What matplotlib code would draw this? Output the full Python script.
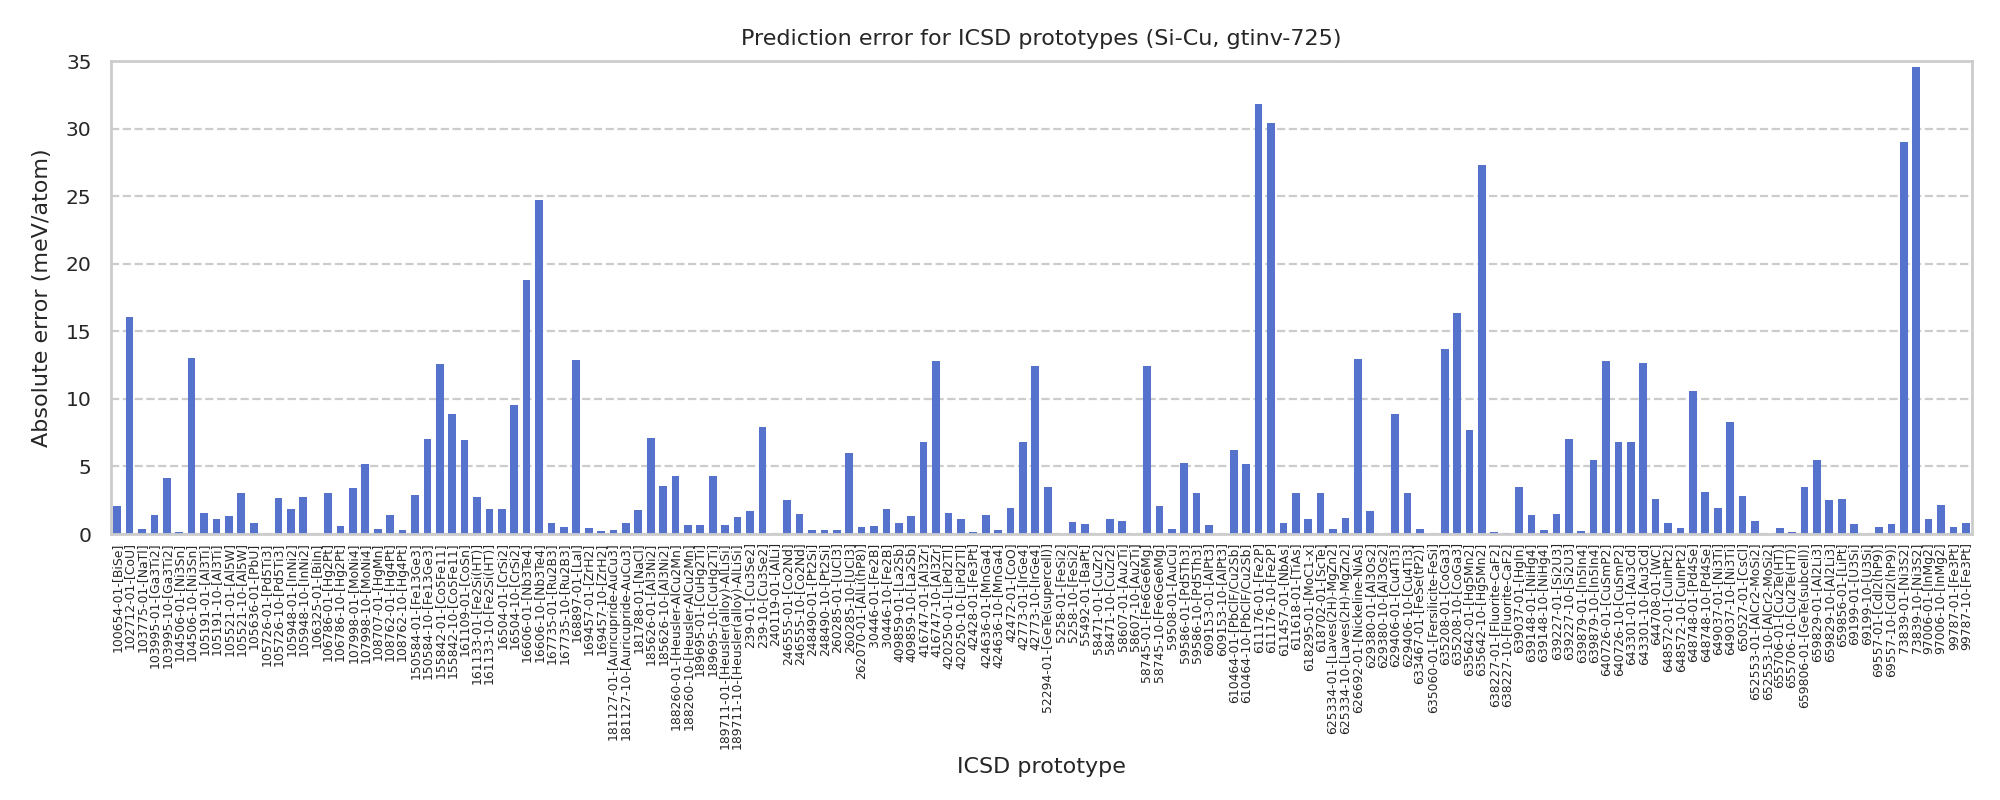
import matplotlib
matplotlib.use('Agg')
import matplotlib.pyplot as plt

# ICSD prototypes in plotting order
prototypes = [
    '100654-01-[BiSe]', '102712-01-[CoU]', '103775-01-[NaTl]', '103995-01-[Ga3Ti2]', '103995-10-[Ga3Ti2]',
    '104506-01-[Ni3Sn]', '104506-10-[Ni3Sn]', '105191-01-[Al3Ti]', '105191-10-[Al3Ti]', '105521-01-[Al5W]',
    '105521-10-[Al5W]', '105636-01-[PbU]', '105726-01-[Pd5Ti3]', '105726-10-[Pd5Ti3]', '105948-01-[InNi2]',
    '105948-10-[InNi2]', '106325-01-[BiIn]', '106786-01-[Hg2Pt]', '106786-10-[Hg2Pt]', '107998-01-[MoNi4]',
    '107998-10-[MoNi4]', '108707-01-[HgMn]', '108762-01-[Hg4Pt]', '108762-10-[Hg4Pt]', '150584-01-[Fe13Ge3]',
    '150584-10-[Fe13Ge3]', '155842-01-[Co5Fe11]', '155842-10-[Co5Fe11]', '161109-01-[CoSn]', '161133-01-[Fe2Si(HT)]',
    '161133-10-[Fe2Si(HT)]', '16504-01-[CrSi2]', '16504-10-[CrSi2]', '16606-01-[Nb3Te4]', '16606-10-[Nb3Te4]',
    '167735-01-[Ru2B3]', '167735-10-[Ru2B3]', '168897-01-[LaI]', '169457-01-[ZrH2]', '169457-10-[ZrH2]',
    '181127-01-[Auricupride-AuCu3]', '181127-10-[Auricupride-AuCu3]', '181788-01-[NaCl]', '185626-01-[Al3Ni2]',
    '185626-10-[Al3Ni2]', '188260-01-[Heusler-AlCu2Mn]', '188260-10-[Heusler-AlCu2Mn]', '189695-01-[CuHg2Ti]',
    '189695-10-[CuHg2Ti]', '189711-01-[Heusler(alloy)-AlLiSi]', '189711-10-[Heusler(alloy)-AlLiSi]',
    '239-01-[Cu3Se2]', '239-10-[Cu3Se2]', '240119-01-[AlLi]', '246555-01-[Co2Nd]', '246555-10-[Co2Nd]',
    '248490-01-[Pt2Si]', '248490-10-[Pt2Si]', '260285-01-[UCl3]', '260285-10-[UCl3]', '262070-01-[AlLi(hP8)]',
    '30446-01-[Fe2B]', '30446-10-[Fe2B]', '409859-01-[La2Sb]', '409859-10-[La2Sb]', '416747-01-[Al3Zr]',
    '416747-10-[Al3Zr]', '420250-01-[LiPd2Tl]', '420250-10-[LiPd2Tl]', '42428-01-[Fe3Pt]', '424636-01-[MnGa4]',
    '424636-10-[MnGa4]', '42472-01-[CoO]', '42773-01-[IrGe4]', '42773-10-[IrGe4]', '52294-01-[GeTe(supercell)]',
    '5258-01-[FeSi2]', '5258-10-[FeSi2]', '55492-01-[BaPt]', '58471-01-[CuZr2]', '58471-10-[CuZr2]',
    '58607-01-[Au2Ti]', '58607-10-[Au2Ti]', '58745-01-[Fe6Ge6Mg]', '58745-10-[Fe6Ge6Mg]', '59508-01-[AuCu]',
    '59586-01-[Pd5Th3]', '59586-10-[Pd5Th3]', '609153-01-[AlPt3]', '609153-10-[AlPt3]', '610464-01-[PbClF/Cu2Sb]',
    '610464-10-[PbClF/Cu2Sb]', '611176-01-[Fe2P]', '611176-10-[Fe2P]', '611457-01-[NbAs]', '611618-01-[TiAs]',
    '618295-01-[MoC1-x]', '618702-01-[ScTe]', '625334-01-[Laves(2H)-MgZn2]', '625334-10-[Laves(2H)-MgZn2]',
    '626692-01-[Nickeline-NiAs]', '629380-01-[Al3Os2]', '629380-10-[Al3Os2]', '629406-01-[Cu4Ti3]',
    '629406-10-[Cu4Ti3]', '633467-01-[FeSe(tP2)]', '635060-01-[Fersilicite-FeSi]', '635208-01-[CoGa3]',
    '635208-10-[CoGa3]', '635642-01-[Hg5Mn2]', '635642-10-[Hg5Mn2]', '638227-01-[Fluorite-CaF2]',
    '638227-10-[Fluorite-CaF2]', '639037-01-[HgIn]', '639148-01-[NiHg4]', '639148-10-[NiHg4]', '639227-01-[Si2U3]',
    '639227-10-[Si2U3]', '639879-01-[In5In4]', '639879-10-[In5In4]', '640726-01-[CuSmP2]', '640726-10-[CuSmP2]',
    '643301-01-[Au3Cd]', '643301-10-[Au3Cd]', '644708-01-[WC]', '648572-01-[CuInPt2]', '648572-10-[CuInPt2]',
    '648748-01-[Pd4Se]', '648748-10-[Pd4Se]', '649037-01-[Ni3Ti]', '649037-10-[Ni3Ti]', '650527-01-[CsCl]',
    '652553-01-[AlCr2-MoSi2]', '652553-10-[AlCr2-MoSi2]', '655706-01-[Cu2Te(HT)]', '655706-10-[Cu2Te(HT)]',
    '659806-01-[GeTe(subcell)]', '659829-01-[Al2Li3]', '659829-10-[Al2Li3]', '659856-01-[LiPt]', '69199-01-[U3Si]',
    '69199-10-[U3Si]', '69557-01-[CdI2(hP9)]', '69557-10-[CdI2(hP9)]', '73839-01-[Ni3S2]', '73839-10-[Ni3S2]',
    '97006-01-[InMg2]', '97006-10-[InMg2]', '99787-01-[Fe3Pt]', '99787-10-[Fe3Pt]',
]

# absolute error in meV/atom
abs_error = [
    2.05, 16.1, 0.40, 1.44, 4.18, 0.17, 13.0, 1.58, 1.14, 1.36,
    3.00, 0.84, 0.00, 2.70, 1.88, 2.77, 0.00, 3.07, 0.62, 3.44,
    5.15, 0.40, 1.44, 0.32, 2.92, 7.00, 12.57, 8.86, 6.93, 2.77,
    1.88, 1.88, 9.53, 18.8, 24.75, 0.84, 0.54, 12.87, 0.47, 0.25,
    0.32, 0.84, 1.80, 7.08, 3.59, 4.26, 0.69, 0.69, 4.26, 0.69,
    1.29, 1.73, 7.90, 0.00, 2.48, 1.51, 0.32, 0.32, 0.32, 5.97,
    0.54, 0.62, 1.88, 0.84, 1.36, 6.78, 12.8, 1.58, 1.14, 0.17,
    1.44, 0.32, 1.96, 6.78, 12.43, 3.51, 0.00, 0.92, 0.77, 0.00,
    1.14, 0.99, 0.00, 12.43, 2.10, 0.40, 5.22, 3.07, 0.69, 0.00,
    6.19, 5.15, 31.85, 30.45, 0.84, 3.00, 1.14, 3.00, 0.40, 1.21,
    12.95, 1.73, 0.00, 8.86, 3.07, 0.40, 0.00, 13.69, 16.36, 7.67,
    27.3, 0.17, 0.10, 3.51, 1.44, 0.32, 1.51, 7.00, 0.25, 5.45,
    12.8, 6.78, 6.78, 12.65, 2.62, 0.84, 0.47, 10.57, 3.14, 1.96,
    8.27, 2.85, 0.99, 0.00, 0.47, 0.17, 3.51, 5.45, 2.55, 2.62,
    0.77, 0.00, 0.54, 0.77, 29.0, 34.6, 1.14, 2.18, 0.54, 0.84,
]

text_col = '#262626'
grid_col = '#cccccc'

fig = plt.figure(figsize=(10, 4), dpi=200)
ax = fig.add_axes([0.0555, 0.3325, 0.9305, 0.591])

ax.bar(prototypes, abs_error, width=0.62, color='#5573cd', zorder=2)

ax.set_xlim(-0.5, len(prototypes) - 0.5)
ax.set_ylim(0, 35)
ax.set_yticks(range(0, 36, 5))
ax.yaxis.grid(True, linestyle='--', linewidth=0.8, color=grid_col)
ax.xaxis.grid(False)
ax.set_axisbelow(True)

for s in ax.spines.values():
    s.set_color(grid_col)
    s.set_linewidth(1.0)

ax.tick_params(axis='both', length=0, colors=text_col)
ax.tick_params(axis='y', labelsize=7.3, pad=7)
ax.tick_params(axis='x', labelsize=4.45, pad=3)
plt.setp(ax.get_xticklabels(), rotation=90)

ax.set_title('Prediction error for ICSD prototypes (Si-Cu, gtinv-725)', fontsize=8, color=text_col, pad=6)
ax.set_xlabel('ICSD prototype', fontsize=8, color=text_col, labelpad=3)
ax.set_ylabel('Absolute error (meV/atom)', fontsize=8, color=text_col, labelpad=5)

fig.savefig('out.png', dpi=200)
